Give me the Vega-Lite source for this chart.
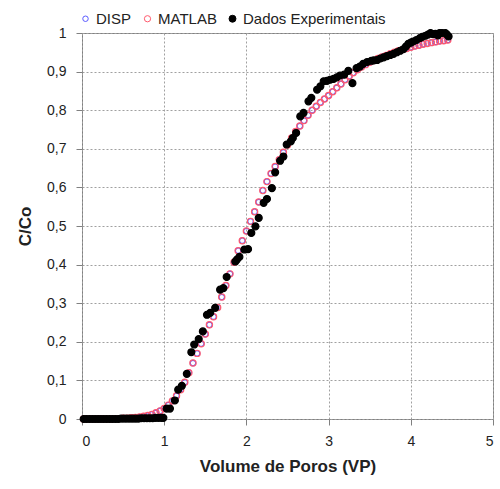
{
  "$schema": "https://vega.github.io/schema/vega-lite/v6.json",
  "width": 411,
  "height": 386,
  "autosize": {"type": "none"},
  "padding": {"left": 82, "top": 33, "right": 7, "bottom": 70},
  "background": "white",
  "config": {
    "font": "Liberation Sans",
    "view": {"stroke": "#808080", "strokeWidth": 1}
  },
  "data": {"values": [
      {"serie":"DISP","vp":0.02,"c":0},{"serie":"DISP","vp":0.05,"c":0},{"serie":"DISP","vp":0.1,"c":0},{"serie":"DISP","vp":0.15,"c":0},{"serie":"DISP","vp":0.2,"c":0},{"serie":"DISP","vp":0.25,"c":0},{"serie":"DISP","vp":0.3,"c":0},{"serie":"DISP","vp":0.35,"c":0},{"serie":"DISP","vp":0.4,"c":0.001},{"serie":"DISP","vp":0.45,"c":0.001},{"serie":"DISP","vp":0.5,"c":0.002},{"serie":"DISP","vp":0.55,"c":0.002},{"serie":"DISP","vp":0.6,"c":0.003},{"serie":"DISP","vp":0.65,"c":0.004},{"serie":"DISP","vp":0.7,"c":0.005},{"serie":"DISP","vp":0.75,"c":0.007},{"serie":"DISP","vp":0.8,"c":0.009},{"serie":"DISP","vp":0.85,"c":0.012},{"serie":"DISP","vp":0.9,"c":0.016},{"serie":"DISP","vp":0.95,"c":0.021},{"serie":"DISP","vp":1.0,"c":0.027},{"serie":"DISP","vp":1.05,"c":0.036},{"serie":"DISP","vp":1.1,"c":0.047},{"serie":"DISP","vp":1.15,"c":0.06},{"serie":"DISP","vp":1.2,"c":0.076},{"serie":"DISP","vp":1.25,"c":0.095},{"serie":"DISP","vp":1.3,"c":0.12},{"serie":"DISP","vp":1.35,"c":0.145},{"serie":"DISP","vp":1.4,"c":0.17},{"serie":"DISP","vp":1.45,"c":0.195},{"serie":"DISP","vp":1.5,"c":0.22},{"serie":"DISP","vp":1.55,"c":0.244},{"serie":"DISP","vp":1.6,"c":0.265},{"serie":"DISP","vp":1.65,"c":0.289},{"serie":"DISP","vp":1.7,"c":0.316},{"serie":"DISP","vp":1.75,"c":0.346},{"serie":"DISP","vp":1.8,"c":0.376},{"serie":"DISP","vp":1.85,"c":0.406},{"serie":"DISP","vp":1.9,"c":0.436},{"serie":"DISP","vp":1.95,"c":0.462},{"serie":"DISP","vp":2.0,"c":0.487},{"serie":"DISP","vp":2.05,"c":0.512},{"serie":"DISP","vp":2.1,"c":0.537},{"serie":"DISP","vp":2.15,"c":0.562},{"serie":"DISP","vp":2.2,"c":0.592},{"serie":"DISP","vp":2.25,"c":0.615},{"serie":"DISP","vp":2.3,"c":0.636},{"serie":"DISP","vp":2.35,"c":0.654},{"serie":"DISP","vp":2.4,"c":0.672},{"serie":"DISP","vp":2.45,"c":0.691},{"serie":"DISP","vp":2.5,"c":0.71},{"serie":"DISP","vp":2.55,"c":0.728},{"serie":"DISP","vp":2.6,"c":0.745},{"serie":"DISP","vp":2.65,"c":0.759},{"serie":"DISP","vp":2.7,"c":0.773},{"serie":"DISP","vp":2.75,"c":0.787},{"serie":"DISP","vp":2.8,"c":0.8},{"serie":"DISP","vp":2.85,"c":0.81},{"serie":"DISP","vp":2.9,"c":0.82},{"serie":"DISP","vp":2.95,"c":0.829},{"serie":"DISP","vp":3.0,"c":0.838},{"serie":"DISP","vp":3.05,"c":0.848},{"serie":"DISP","vp":3.1,"c":0.858},{"serie":"DISP","vp":3.15,"c":0.868},{"serie":"DISP","vp":3.2,"c":0.879},{"serie":"DISP","vp":3.25,"c":0.888},{"serie":"DISP","vp":3.3,"c":0.897},{"serie":"DISP","vp":3.35,"c":0.905},{"serie":"DISP","vp":3.4,"c":0.912},{"serie":"DISP","vp":3.45,"c":0.918},{"serie":"DISP","vp":3.5,"c":0.924},{"serie":"DISP","vp":3.55,"c":0.929},{"serie":"DISP","vp":3.6,"c":0.934},{"serie":"DISP","vp":3.65,"c":0.938},{"serie":"DISP","vp":3.7,"c":0.942},{"serie":"DISP","vp":3.75,"c":0.946},{"serie":"DISP","vp":3.8,"c":0.95},{"serie":"DISP","vp":3.85,"c":0.954},{"serie":"DISP","vp":3.9,"c":0.957},{"serie":"DISP","vp":3.95,"c":0.96},{"serie":"DISP","vp":4.0,"c":0.963},{"serie":"DISP","vp":4.05,"c":0.966},{"serie":"DISP","vp":4.1,"c":0.968},{"serie":"DISP","vp":4.15,"c":0.971},{"serie":"DISP","vp":4.2,"c":0.973},{"serie":"DISP","vp":4.25,"c":0.975},{"serie":"DISP","vp":4.3,"c":0.977},{"serie":"DISP","vp":4.35,"c":0.979},{"serie":"DISP","vp":4.4,"c":0.98},{"serie":"DISP","vp":4.45,"c":0.982},
      {"serie":"MATLAB","vp":0.02,"c":0},{"serie":"MATLAB","vp":0.05,"c":0},{"serie":"MATLAB","vp":0.1,"c":0},{"serie":"MATLAB","vp":0.15,"c":0},{"serie":"MATLAB","vp":0.2,"c":0},{"serie":"MATLAB","vp":0.25,"c":0},{"serie":"MATLAB","vp":0.3,"c":0},{"serie":"MATLAB","vp":0.35,"c":0},{"serie":"MATLAB","vp":0.4,"c":0.001},{"serie":"MATLAB","vp":0.45,"c":0.001},{"serie":"MATLAB","vp":0.5,"c":0.002},{"serie":"MATLAB","vp":0.55,"c":0.002},{"serie":"MATLAB","vp":0.6,"c":0.003},{"serie":"MATLAB","vp":0.65,"c":0.004},{"serie":"MATLAB","vp":0.7,"c":0.005},{"serie":"MATLAB","vp":0.75,"c":0.007},{"serie":"MATLAB","vp":0.8,"c":0.009},{"serie":"MATLAB","vp":0.85,"c":0.012},{"serie":"MATLAB","vp":0.9,"c":0.016},{"serie":"MATLAB","vp":0.95,"c":0.021},{"serie":"MATLAB","vp":1.0,"c":0.027},{"serie":"MATLAB","vp":1.05,"c":0.036},{"serie":"MATLAB","vp":1.1,"c":0.047},{"serie":"MATLAB","vp":1.15,"c":0.06},{"serie":"MATLAB","vp":1.2,"c":0.076},{"serie":"MATLAB","vp":1.25,"c":0.095},{"serie":"MATLAB","vp":1.3,"c":0.12},{"serie":"MATLAB","vp":1.35,"c":0.145},{"serie":"MATLAB","vp":1.4,"c":0.17},{"serie":"MATLAB","vp":1.45,"c":0.195},{"serie":"MATLAB","vp":1.5,"c":0.22},{"serie":"MATLAB","vp":1.55,"c":0.244},{"serie":"MATLAB","vp":1.6,"c":0.265},{"serie":"MATLAB","vp":1.65,"c":0.289},{"serie":"MATLAB","vp":1.7,"c":0.316},{"serie":"MATLAB","vp":1.75,"c":0.346},{"serie":"MATLAB","vp":1.8,"c":0.376},{"serie":"MATLAB","vp":1.85,"c":0.406},{"serie":"MATLAB","vp":1.9,"c":0.436},{"serie":"MATLAB","vp":1.95,"c":0.462},{"serie":"MATLAB","vp":2.0,"c":0.487},{"serie":"MATLAB","vp":2.05,"c":0.512},{"serie":"MATLAB","vp":2.1,"c":0.537},{"serie":"MATLAB","vp":2.15,"c":0.562},{"serie":"MATLAB","vp":2.2,"c":0.592},{"serie":"MATLAB","vp":2.25,"c":0.615},{"serie":"MATLAB","vp":2.3,"c":0.636},{"serie":"MATLAB","vp":2.35,"c":0.654},{"serie":"MATLAB","vp":2.4,"c":0.672},{"serie":"MATLAB","vp":2.45,"c":0.691},{"serie":"MATLAB","vp":2.5,"c":0.71},{"serie":"MATLAB","vp":2.55,"c":0.728},{"serie":"MATLAB","vp":2.6,"c":0.745},{"serie":"MATLAB","vp":2.65,"c":0.759},{"serie":"MATLAB","vp":2.7,"c":0.773},{"serie":"MATLAB","vp":2.75,"c":0.787},{"serie":"MATLAB","vp":2.8,"c":0.8},{"serie":"MATLAB","vp":2.85,"c":0.81},{"serie":"MATLAB","vp":2.9,"c":0.82},{"serie":"MATLAB","vp":2.95,"c":0.829},{"serie":"MATLAB","vp":3.0,"c":0.838},{"serie":"MATLAB","vp":3.05,"c":0.848},{"serie":"MATLAB","vp":3.1,"c":0.858},{"serie":"MATLAB","vp":3.15,"c":0.868},{"serie":"MATLAB","vp":3.2,"c":0.879},{"serie":"MATLAB","vp":3.25,"c":0.888},{"serie":"MATLAB","vp":3.3,"c":0.897},{"serie":"MATLAB","vp":3.35,"c":0.905},{"serie":"MATLAB","vp":3.4,"c":0.912},{"serie":"MATLAB","vp":3.45,"c":0.918},{"serie":"MATLAB","vp":3.5,"c":0.924},{"serie":"MATLAB","vp":3.55,"c":0.929},{"serie":"MATLAB","vp":3.6,"c":0.934},{"serie":"MATLAB","vp":3.65,"c":0.938},{"serie":"MATLAB","vp":3.7,"c":0.942},{"serie":"MATLAB","vp":3.75,"c":0.946},{"serie":"MATLAB","vp":3.8,"c":0.95},{"serie":"MATLAB","vp":3.85,"c":0.954},{"serie":"MATLAB","vp":3.9,"c":0.957},{"serie":"MATLAB","vp":3.95,"c":0.96},{"serie":"MATLAB","vp":4.0,"c":0.963},{"serie":"MATLAB","vp":4.05,"c":0.966},{"serie":"MATLAB","vp":4.1,"c":0.968},{"serie":"MATLAB","vp":4.15,"c":0.971},{"serie":"MATLAB","vp":4.2,"c":0.973},{"serie":"MATLAB","vp":4.25,"c":0.975},{"serie":"MATLAB","vp":4.3,"c":0.977},{"serie":"MATLAB","vp":4.35,"c":0.979},{"serie":"MATLAB","vp":4.4,"c":0.98},{"serie":"MATLAB","vp":4.45,"c":0.982},
      {"serie":"Dados Experimentais","vp":0.02,"c":0.0},{"serie":"Dados Experimentais","vp":0.055,"c":0.0},{"serie":"Dados Experimentais","vp":0.09,"c":0.0},{"serie":"Dados Experimentais","vp":0.125,"c":0.0},{"serie":"Dados Experimentais","vp":0.16,"c":0.0},{"serie":"Dados Experimentais","vp":0.195,"c":0.0},{"serie":"Dados Experimentais","vp":0.23,"c":0.0},{"serie":"Dados Experimentais","vp":0.265,"c":0.0},{"serie":"Dados Experimentais","vp":0.3,"c":0.0},{"serie":"Dados Experimentais","vp":0.335,"c":0.0},{"serie":"Dados Experimentais","vp":0.37,"c":0.0},{"serie":"Dados Experimentais","vp":0.405,"c":0.0},{"serie":"Dados Experimentais","vp":0.44,"c":0.0},{"serie":"Dados Experimentais","vp":0.475,"c":0.001},{"serie":"Dados Experimentais","vp":0.51,"c":0.001},{"serie":"Dados Experimentais","vp":0.545,"c":0.001},{"serie":"Dados Experimentais","vp":0.58,"c":0.001},{"serie":"Dados Experimentais","vp":0.615,"c":0.001},{"serie":"Dados Experimentais","vp":0.65,"c":0.001},{"serie":"Dados Experimentais","vp":0.685,"c":0.001},{"serie":"Dados Experimentais","vp":0.72,"c":0.002},{"serie":"Dados Experimentais","vp":0.755,"c":0.002},{"serie":"Dados Experimentais","vp":0.79,"c":0.002},{"serie":"Dados Experimentais","vp":0.825,"c":0.002},{"serie":"Dados Experimentais","vp":0.86,"c":0.002},{"serie":"Dados Experimentais","vp":0.895,"c":0.003},{"serie":"Dados Experimentais","vp":0.93,"c":0.003},{"serie":"Dados Experimentais","vp":0.965,"c":0.003},{"serie":"Dados Experimentais","vp":0.99,"c":0.003},
      {"serie":"Dados Experimentais","vp":1.03,"c":0.027},{"serie":"Dados Experimentais","vp":1.07,"c":0.027},{"serie":"Dados Experimentais","vp":1.13,"c":0.048},{"serie":"Dados Experimentais","vp":1.17,"c":0.076},{"serie":"Dados Experimentais","vp":1.215,"c":0.086},{"serie":"Dados Experimentais","vp":1.275,"c":0.117},{"serie":"Dados Experimentais","vp":1.33,"c":0.173},{"serie":"Dados Experimentais","vp":1.365,"c":0.193},{"serie":"Dados Experimentais","vp":1.42,"c":0.207},{"serie":"Dados Experimentais","vp":1.47,"c":0.227},{"serie":"Dados Experimentais","vp":1.52,"c":0.27},{"serie":"Dados Experimentais","vp":1.56,"c":0.275},{"serie":"Dados Experimentais","vp":1.62,"c":0.288},{"serie":"Dados Experimentais","vp":1.68,"c":0.335},{"serie":"Dados Experimentais","vp":1.72,"c":0.339},{"serie":"Dados Experimentais","vp":1.76,"c":0.368},{"serie":"Dados Experimentais","vp":1.865,"c":0.408},{"serie":"Dados Experimentais","vp":1.885,"c":0.413},{"serie":"Dados Experimentais","vp":1.915,"c":0.42},{"serie":"Dados Experimentais","vp":1.975,"c":0.439},{"serie":"Dados Experimentais","vp":2.02,"c":0.44},{"serie":"Dados Experimentais","vp":2.06,"c":0.482},{"serie":"Dados Experimentais","vp":2.11,"c":0.499},{"serie":"Dados Experimentais","vp":2.15,"c":0.521},{"serie":"Dados Experimentais","vp":2.21,"c":0.56},{"serie":"Dados Experimentais","vp":2.25,"c":0.57},{"serie":"Dados Experimentais","vp":2.31,"c":0.598},{"serie":"Dados Experimentais","vp":2.35,"c":0.639},{"serie":"Dados Experimentais","vp":2.41,"c":0.669},{"serie":"Dados Experimentais","vp":2.45,"c":0.68},{"serie":"Dados Experimentais","vp":2.49,"c":0.711},{"serie":"Dados Experimentais","vp":2.54,"c":0.719},{"serie":"Dados Experimentais","vp":2.565,"c":0.728},{"serie":"Dados Experimentais","vp":2.605,"c":0.741},{"serie":"Dados Experimentais","vp":2.655,"c":0.784},{"serie":"Dados Experimentais","vp":2.695,"c":0.793},{"serie":"Dados Experimentais","vp":2.755,"c":0.823},{"serie":"Dados Experimentais","vp":2.79,"c":0.832},{"serie":"Dados Experimentais","vp":2.86,"c":0.853},{"serie":"Dados Experimentais","vp":2.9,"c":0.862},{"serie":"Dados Experimentais","vp":2.94,"c":0.875},{"serie":"Dados Experimentais","vp":2.98,"c":0.876},{"serie":"Dados Experimentais","vp":3.02,"c":0.879},{"serie":"Dados Experimentais","vp":3.06,"c":0.881},{"serie":"Dados Experimentais","vp":3.1,"c":0.885},{"serie":"Dados Experimentais","vp":3.14,"c":0.89},{"serie":"Dados Experimentais","vp":3.19,"c":0.892},{"serie":"Dados Experimentais","vp":3.24,"c":0.902},{"serie":"Dados Experimentais","vp":3.29,"c":0.87},{"serie":"Dados Experimentais","vp":3.34,"c":0.909},{"serie":"Dados Experimentais","vp":3.38,"c":0.913},{"serie":"Dados Experimentais","vp":3.42,"c":0.92},{"serie":"Dados Experimentais","vp":3.47,"c":0.925},{"serie":"Dados Experimentais","vp":3.52,"c":0.928},{"serie":"Dados Experimentais","vp":3.55,"c":0.929},{"serie":"Dados Experimentais","vp":3.59,"c":0.93},{"serie":"Dados Experimentais","vp":3.63,"c":0.934},{"serie":"Dados Experimentais","vp":3.67,"c":0.937},{"serie":"Dados Experimentais","vp":3.71,"c":0.94},{"serie":"Dados Experimentais","vp":3.75,"c":0.943},{"serie":"Dados Experimentais","vp":3.79,"c":0.946},{"serie":"Dados Experimentais","vp":3.83,"c":0.95},{"serie":"Dados Experimentais","vp":3.87,"c":0.954},{"serie":"Dados Experimentais","vp":3.91,"c":0.958},{"serie":"Dados Experimentais","vp":3.94,"c":0.965},{"serie":"Dados Experimentais","vp":3.97,"c":0.972},{"serie":"Dados Experimentais","vp":4.0,"c":0.975},{"serie":"Dados Experimentais","vp":4.03,"c":0.978},{"serie":"Dados Experimentais","vp":4.07,"c":0.982},{"serie":"Dados Experimentais","vp":4.11,"c":0.987},{"serie":"Dados Experimentais","vp":4.14,"c":0.99},{"serie":"Dados Experimentais","vp":4.18,"c":0.993},{"serie":"Dados Experimentais","vp":4.21,"c":0.996},{"serie":"Dados Experimentais","vp":4.24,"c":1.0},{"serie":"Dados Experimentais","vp":4.27,"c":0.997},{"serie":"Dados Experimentais","vp":4.3,"c":0.998},{"serie":"Dados Experimentais","vp":4.33,"c":0.994},{"serie":"Dados Experimentais","vp":4.35,"c":1.0},{"serie":"Dados Experimentais","vp":4.38,"c":1.0},{"serie":"Dados Experimentais","vp":4.42,"c":1.0},{"serie":"Dados Experimentais","vp":4.44,"c":0.996},{"serie":"Dados Experimentais","vp":4.46,"c":0.991}
  ]},
  "mark": {"type": "point", "shape": "circle", "strokeWidth": 1.2, "opacity": 1},
  "encoding": {
    "x": {
      "field": "vp", "type": "quantitative",
      "scale": {"domain": [0, 5], "nice": false, "zero": false},
      "axis": {
        "values": [0, 1, 2, 3, 4, 5],
        "format": "d",
        "title": "Volume de Poros (VP)",
        "titleFontSize": 17, "titleFontWeight": "bold", "titleColor": "#222", "titlePadding": 10,
        "labelFontSize": 14, "labelColor": "#222", "labelPadding": 9,
        "domain": false, "tickColor": "#808080", "tickSize": 6,
        "grid": true, "gridColor": "#a0a0a0", "gridDash": [2, 2]
      }
    },
    "y": {
      "field": "c", "type": "quantitative",
      "scale": {"domain": [0, 1], "nice": false},
      "axis": {
        "values": [0, 0.1, 0.2, 0.3, 0.4, 0.5, 0.6, 0.7, 0.8, 0.9, 1],
        "labelExpr": "replace(format(datum.value, '~g'), '.', ',')",
        "title": "C/Co",
        "titleFontSize": 17, "titleFontWeight": "bold", "titleColor": "#222", "titlePadding": 12,
        "labelFontSize": 14, "labelColor": "#222", "labelPadding": 10,
        "domain": false, "tickColor": "#808080", "tickSize": 6,
        "grid": true, "gridColor": "#a0a0a0", "gridDash": [2, 2]
      }
    },
    "stroke": {
      "field": "serie", "type": "nominal",
      "scale": {"domain": ["DISP", "MATLAB", "Dados Experimentais"], "range": ["#5a5aff", "#ff5a6e", "#000000"]},
      "legend": {
        "title": null, "orient": "none", "direction": "horizontal",
        "legendX": -4, "legendY": -22,
        "labelFontSize": 15, "labelColor": "#222", "labelOffset": 3,
        "symbolStrokeWidth": 1, "columnPadding": 8
      }
    },
    "fill": {
      "field": "serie", "type": "nominal",
      "scale": {"domain": ["DISP", "MATLAB", "Dados Experimentais"], "range": ["transparent", "transparent", "#000000"]},
      "legend": {
        "title": null, "orient": "none", "direction": "horizontal",
        "legendX": -4, "legendY": -22,
        "labelFontSize": 15, "labelColor": "#222", "labelOffset": 3,
        "symbolStrokeWidth": 1, "columnPadding": 8
      }
    },
    "size": {
      "field": "serie", "type": "nominal",
      "scale": {"domain": ["DISP", "MATLAB", "Dados Experimentais"], "range": [30, 48, 28]},
      "legend": {
        "title": null, "orient": "none", "direction": "horizontal",
        "legendX": -4, "legendY": -22,
        "labelFontSize": 15, "labelColor": "#222", "labelOffset": 3,
        "symbolStrokeWidth": 1, "columnPadding": 8
      }
    }
  }
}
